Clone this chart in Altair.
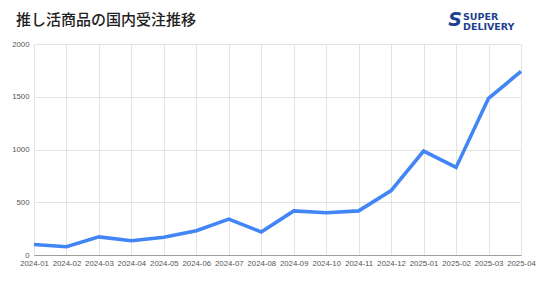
import altair as alt
import pandas as pd

months = ["2024-01", "2024-02", "2024-03", "2024-04", "2024-05", "2024-06", "2024-07", "2024-08",
          "2024-09", "2024-10", "2024-11", "2024-12", "2025-01", "2025-02", "2025-03", "2025-04"]
orders = [100, 78, 172, 135, 168, 230, 340, 218, 418, 400, 418, 610, 985, 830, 1485, 1740]
y_ticks = [0, 500, 1000, 1500, 2000]
title_text = "推し活商品の国内受注推移"
logo_lines = ["SUPER", "DELIVERY"]

df = pd.DataFrame({"month": months, "orders": orders})

W, H = 487, 211
NAVY = "#1d3f8f"

line = alt.Chart(df).mark_line(color="#4285f4", strokeWidth=3.6, strokeJoin="miter").encode(
    x=alt.X("month:O", sort=months, title=None,
            scale=alt.Scale(type="point", padding=0),
            axis=alt.Axis(labelAngle=0, labelFontSize=7.8, labelColor="#555555", labelFont="Liberation Sans",
                          grid=True, gridColor="#e3e3e3", domain=True, domainColor="#9e9e9e",
                          ticks=False, labelPadding=4, labelOverlap=False)),
    y=alt.Y("orders:Q", title=None,
            scale=alt.Scale(domain=[0, 2000], nice=False),
            axis=alt.Axis(values=y_ticks, format="d", labelFontSize=7.8, labelColor="#555555",
                          labelFont="Liberation Sans",
                          grid=True, gridColor="#e3e3e3", domain=False, ticks=False, labelPadding=5)),
)

title = alt.Chart(pd.DataFrame({"t": [title_text]})).mark_text(
    align="left", baseline="middle", fontSize=15, font="Noto Sans CJK JP", fontWeight=500, color="#222222"
).encode(x=alt.value(-18), y=alt.value(-24), text="t:N")

logo_s = alt.Chart(pd.DataFrame({"t": ["S"]})).mark_text(
    align="center", baseline="middle", fontSize=19, font="DejaVu Sans", fontWeight="bold",
    fontStyle="italic", color=NAVY
).encode(x=alt.value(421), y=alt.value(-24), text="t:N")

logo_top = alt.Chart(pd.DataFrame({"t": [logo_lines[0]]})).mark_text(
    align="left", baseline="alphabetic", fontSize=9.5, font="DejaVu Sans", fontWeight="bold",
    color=NAVY).encode(x=alt.value(429), y=alt.value(-24), text="t:N")

logo_bot = alt.Chart(pd.DataFrame({"t": [logo_lines[1]]})).mark_text(
    align="left", baseline="alphabetic", fontSize=9.5, font="DejaVu Sans", fontWeight="bold",
    color=NAVY).encode(x=alt.value(429), y=alt.value(-14), text="t:N")

chart = alt.layer(line, title, logo_s, logo_top, logo_bot).properties(
    width=W, height=H,
    padding={"left": 34, "top": 44, "right": 15, "bottom": 26},
    autosize=alt.AutoSizeParams(type="none"),
).configure_view(stroke=None)

chart.save("out.html", embed_options={"renderer": "svg", "actions": False})
